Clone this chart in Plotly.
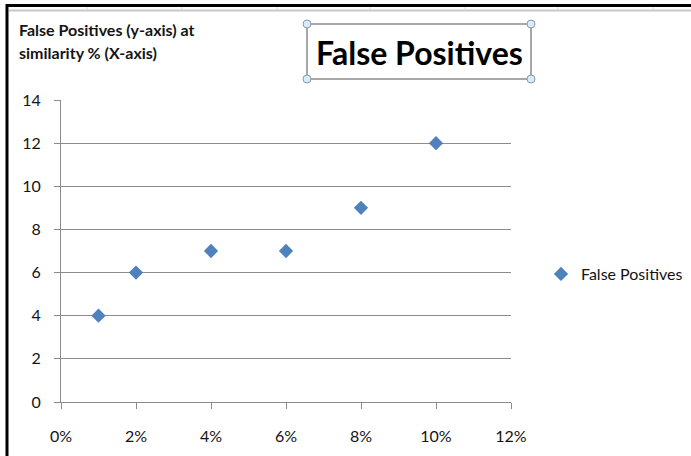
import plotly.graph_objects as go

# Similarity threshold (%) and number of false positives observed
similarity_pct = [1, 2, 4, 6, 8, 10]
false_positives = [4, 6, 7, 7, 9, 12]
x_ticks = [0, 2, 4, 6, 8, 10, 12]
x_tick_labels = ["0%", "2%", "4%", "6%", "8%", "10%", "12%"]
y_ticks = [0, 2, 4, 6, 8, 10, 12, 14]

FONT = "Lato"
BLUE = "#4F81BD"
GRID = "#8C8C8C"
INK = "#141414"

W, H = 691, 456
L, R, T, B = 61, 180, 100, 54
PW, PH = W - L - R, H - T - B


def px(x):
    return (x - L) / PW


def py(y):
    return (H - B - y) / PH


fig = go.Figure()
fig.add_trace(go.Scatter(
    x=similarity_pct, y=false_positives, mode="markers",
    name="False Positives",
    marker=dict(symbol="diamond", size=11, color=BLUE),
))

fig.update_xaxes(
    range=[0, 12], tickvals=x_ticks, ticktext=x_tick_labels,
    showgrid=False, zeroline=False, showline=True, linecolor=GRID, linewidth=1,
    ticks="outside", ticklen=6, tickcolor=GRID, ticklabelstandoff=14,
    tickfont=dict(family=FONT, size=16, color=INK),
)
fig.update_yaxes(
    range=[0, 14], tickvals=y_ticks,
    showgrid=True, gridcolor=GRID, gridwidth=1.2, zeroline=False,
    showline=True, linecolor=GRID, linewidth=1.2,
    ticks="outside", ticklen=6, tickcolor=GRID, ticklabelstandoff=10,
    tickfont=dict(family=FONT, size=16, color=INK),
)

shapes = []
# Sheet frame: thick black border on the top and left, grey cell line below it
shapes.append(dict(type="line", xref="paper", yref="paper",
                   x0=px(6), x1=px(W), y0=py(5.5), y1=py(5.5),
                   line=dict(color="black", width=3)))
shapes.append(dict(type="line", xref="paper", yref="paper",
                   x0=px(7), x1=px(7), y0=py(4), y1=py(H),
                   line=dict(color="black", width=3)))
shapes.append(dict(type="line", xref="paper", yref="paper",
                   x0=px(9), x1=px(W), y0=py(10.5), y1=py(10.5),
                   line=dict(color="#C8C8C8", width=2)))
for cx in [87, 182, 277, 370, 465, 558, 653]:
    shapes.append(dict(type="line", xref="paper", yref="paper",
                       x0=px(cx), x1=px(cx), y0=py(7), y1=py(10),
                       line=dict(color="#DADADA", width=1)))

# Selected chart-title box with its handles
bx0, bx1, by0, by1 = 307, 531, 24, 79
shapes.append(dict(type="rect", xref="paper", yref="paper",
                   x0=px(bx0), x1=px(bx1), y0=py(by0), y1=py(by1),
                   line=dict(color="#8A8A8A", width=1.5), fillcolor="white"))
for hx in (bx0, bx1):
    for hy in (by0, by1):
        shapes.append(dict(type="circle", xref="paper", yref="paper",
                           x0=px(hx - 4), x1=px(hx + 4), y0=py(hy - 4), y1=py(hy + 4),
                           line=dict(color="#7F9DB9", width=1), fillcolor="#DCEAF5"))

annotations = [
    dict(text="<b>False Positives</b>", xref="paper", yref="paper",
         x=px((bx0 + bx1) / 2), y=py(52), xanchor="center", yanchor="middle",
         showarrow=False, font=dict(family=FONT, size=32, color="black")),
    dict(text="<b>False Positives (y-axis) at</b>",
         xref="paper", yref="paper", x=px(17), y=py(30), xanchor="left", yanchor="middle",
         showarrow=False, font=dict(family=FONT, size=16, color=INK)),
    dict(text="<b>similarity % (X-axis)</b>",
         xref="paper", yref="paper", x=px(17), y=py(52), xanchor="left", yanchor="middle",
         showarrow=False, font=dict(family=FONT, size=16, color=INK)),
]

fig.update_layout(
    width=W, height=H,
    margin=dict(l=L, r=R, t=T, b=B, pad=0, autoexpand=False),
    paper_bgcolor="white", plot_bgcolor="white",
    showlegend=True,
    legend=dict(x=px(541), y=py(274), xanchor="left", yanchor="middle",
                font=dict(family=FONT, size=16, color=INK),
                itemwidth=30, bgcolor="rgba(0,0,0,0)"),
    shapes=shapes, annotations=annotations,
)

fig.write_html("out.html")
